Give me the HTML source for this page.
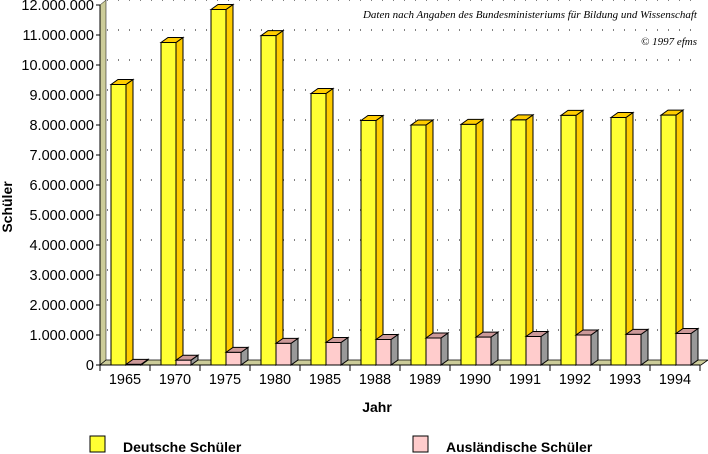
<!DOCTYPE html>
<html><head><meta charset="utf-8"><style>
body{margin:0;background:#fff;}
svg{display:block;}
</style></head><body>
<svg id="chart" width="708" height="454" viewBox="0 0 708 454" xmlns="http://www.w3.org/2000/svg">
<g id="grid"></g>
<polygon points="100,365 100,5 106,0 106,360" fill="#cccc99" stroke="#000" stroke-width="0.5"/>
<polygon points="100,365 106,360 708,360 701,365" fill="#cccc99" stroke="#000" stroke-width="0.8"/>
<g id="bars"></g>
<line x1="100" y1="5" x2="100" y2="365" stroke="#000"/>
<line x1="100" y1="365" x2="700" y2="365" stroke="#000"/>
<g id="yticks" font-family="Liberation Sans, sans-serif" font-size="14.5" text-anchor="end"></g>
<g id="xticks" font-family="Liberation Sans, sans-serif" font-size="14.5" text-anchor="middle"></g>
<text transform="translate(12,207) rotate(-90)" text-anchor="middle" font-family="Liberation Sans, sans-serif" font-weight="bold" font-size="14">Schüler</text>
<text x="377" y="412" text-anchor="middle" font-family="Liberation Sans, sans-serif" font-weight="bold" font-size="14">Jahr</text>
<text x="697" y="18" text-anchor="end" font-family="Liberation Serif, serif" font-style="italic" font-size="11">Daten nach Angaben des Bundesministeriums für Bildung und Wissenschaft</text>
<text x="697" y="45" text-anchor="end" font-family="Liberation Serif, serif" font-style="italic" font-size="11">© 1997 efms</text>
<rect x="90" y="436" width="15" height="16" fill="#ffff33" stroke="#000"/>
<text x="123" y="452" font-family="Liberation Sans, sans-serif" font-weight="bold" font-size="14">Deutsche Schüler</text>
<rect x="413" y="436" width="15" height="16" fill="#ffcccc" stroke="#000"/>
<text x="446" y="452" font-family="Liberation Sans, sans-serif" font-weight="bold" font-size="14">Ausländische Schüler</text>
</svg>
<script>
const categories=["1965","1970","1975","1980","1985","1988","1989","1990","1991","1992","1993","1994"];
const deutsche=[9350000,10750000,11850000,10980000,9050000,8150000,8000000,8020000,8170000,8320000,8250000,8330000];
const auslaendische=[20000,160000,420000,720000,750000,850000,900000,930000,950000,1000000,1020000,1050000];
const yTicks=[0,1000000,2000000,3000000,4000000,5000000,6000000,7000000,8000000,9000000,10000000,11000000,12000000];
const yTickLabels=["0","1.000.000","2.000.000","3.000.000","4.000.000","5.000.000","6.000.000","7.000.000","8.000.000","9.000.000","10.000.000","11.000.000","12.000.000"];
const NS="http://www.w3.org/2000/svg";
const y0=365,yTop=5,yMax=12000000,x0=100,slot=50,DX=7,DY=5;
function yS(v){return y0-(v/yMax)*(y0-yTop);}
function xS(i){return x0+i*slot;}
function mk(tag,parent,attrs){const e=document.createElementNS(NS,tag);for(const k in attrs)e.setAttribute(k,attrs[k]);parent.appendChild(e);return e;}
const grid=document.getElementById('grid'),bars=document.getElementById('bars'),yt=document.getElementById('yticks'),xt=document.getElementById('xticks');
yTicks.forEach((v,i)=>{
  const y=yS(v);
  if(v>0){const g=mk('line',grid,{x1:x0+DX,y1:y-DY,x2:700,y2:y-DY,stroke:'#000','stroke-width':1,'stroke-dasharray':'1,10'});
  
  }
  const t=mk('line',yt,{x1:x0-4,y1:y,x2:x0,y2:y,stroke:'#000'});
  
  
  const l=mk('text',yt,{x:x0-6,y:y+5});l.textContent=yTickLabels[i];
  
  
});
for(let i=0;i<=categories.length;i++){
  const t=mk('line',xt,{x1:xS(i),y1:y0,x2:xS(i),y2:y0+6,stroke:'#000'});
  
  
}
function bar(x,w,v,front,top,side,name){
  const g=mk('g',bars,{});
  
  
  const yt2=yS(v);
  mk('polygon',g,{points:`${x+w},${y0} ${x+w},${yt2} ${x+w+DX},${yt2-DY} ${x+w+DX},${y0-DY}`,fill:side,stroke:'#000','stroke-width':1});
  mk('polygon',g,{points:`${x},${yt2} ${x+DX},${yt2-DY} ${x+w+DX},${yt2-DY} ${x+w},${yt2}`,fill:top,stroke:'#000','stroke-width':1});
  mk('rect',g,{x:x,y:yt2,width:w,height:y0-yt2,fill:front,stroke:'#000','stroke-width':1});
}
categories.forEach((c,i)=>{
  const x=xS(i);
  bar(x+11,15,deutsche[i],'#ffff33','#ffcc00','#ffcc00','bar-deutsche-'+c);
  bar(x+26,15,auslaendische[i],'#ffcccc','#cc9999','#999999','bar-auslaendische-'+c);
  const l=mk('text',xt,{x:x+slot/2,y:y0+19});l.textContent=c;
  
  
});
</script>
</body></html>
